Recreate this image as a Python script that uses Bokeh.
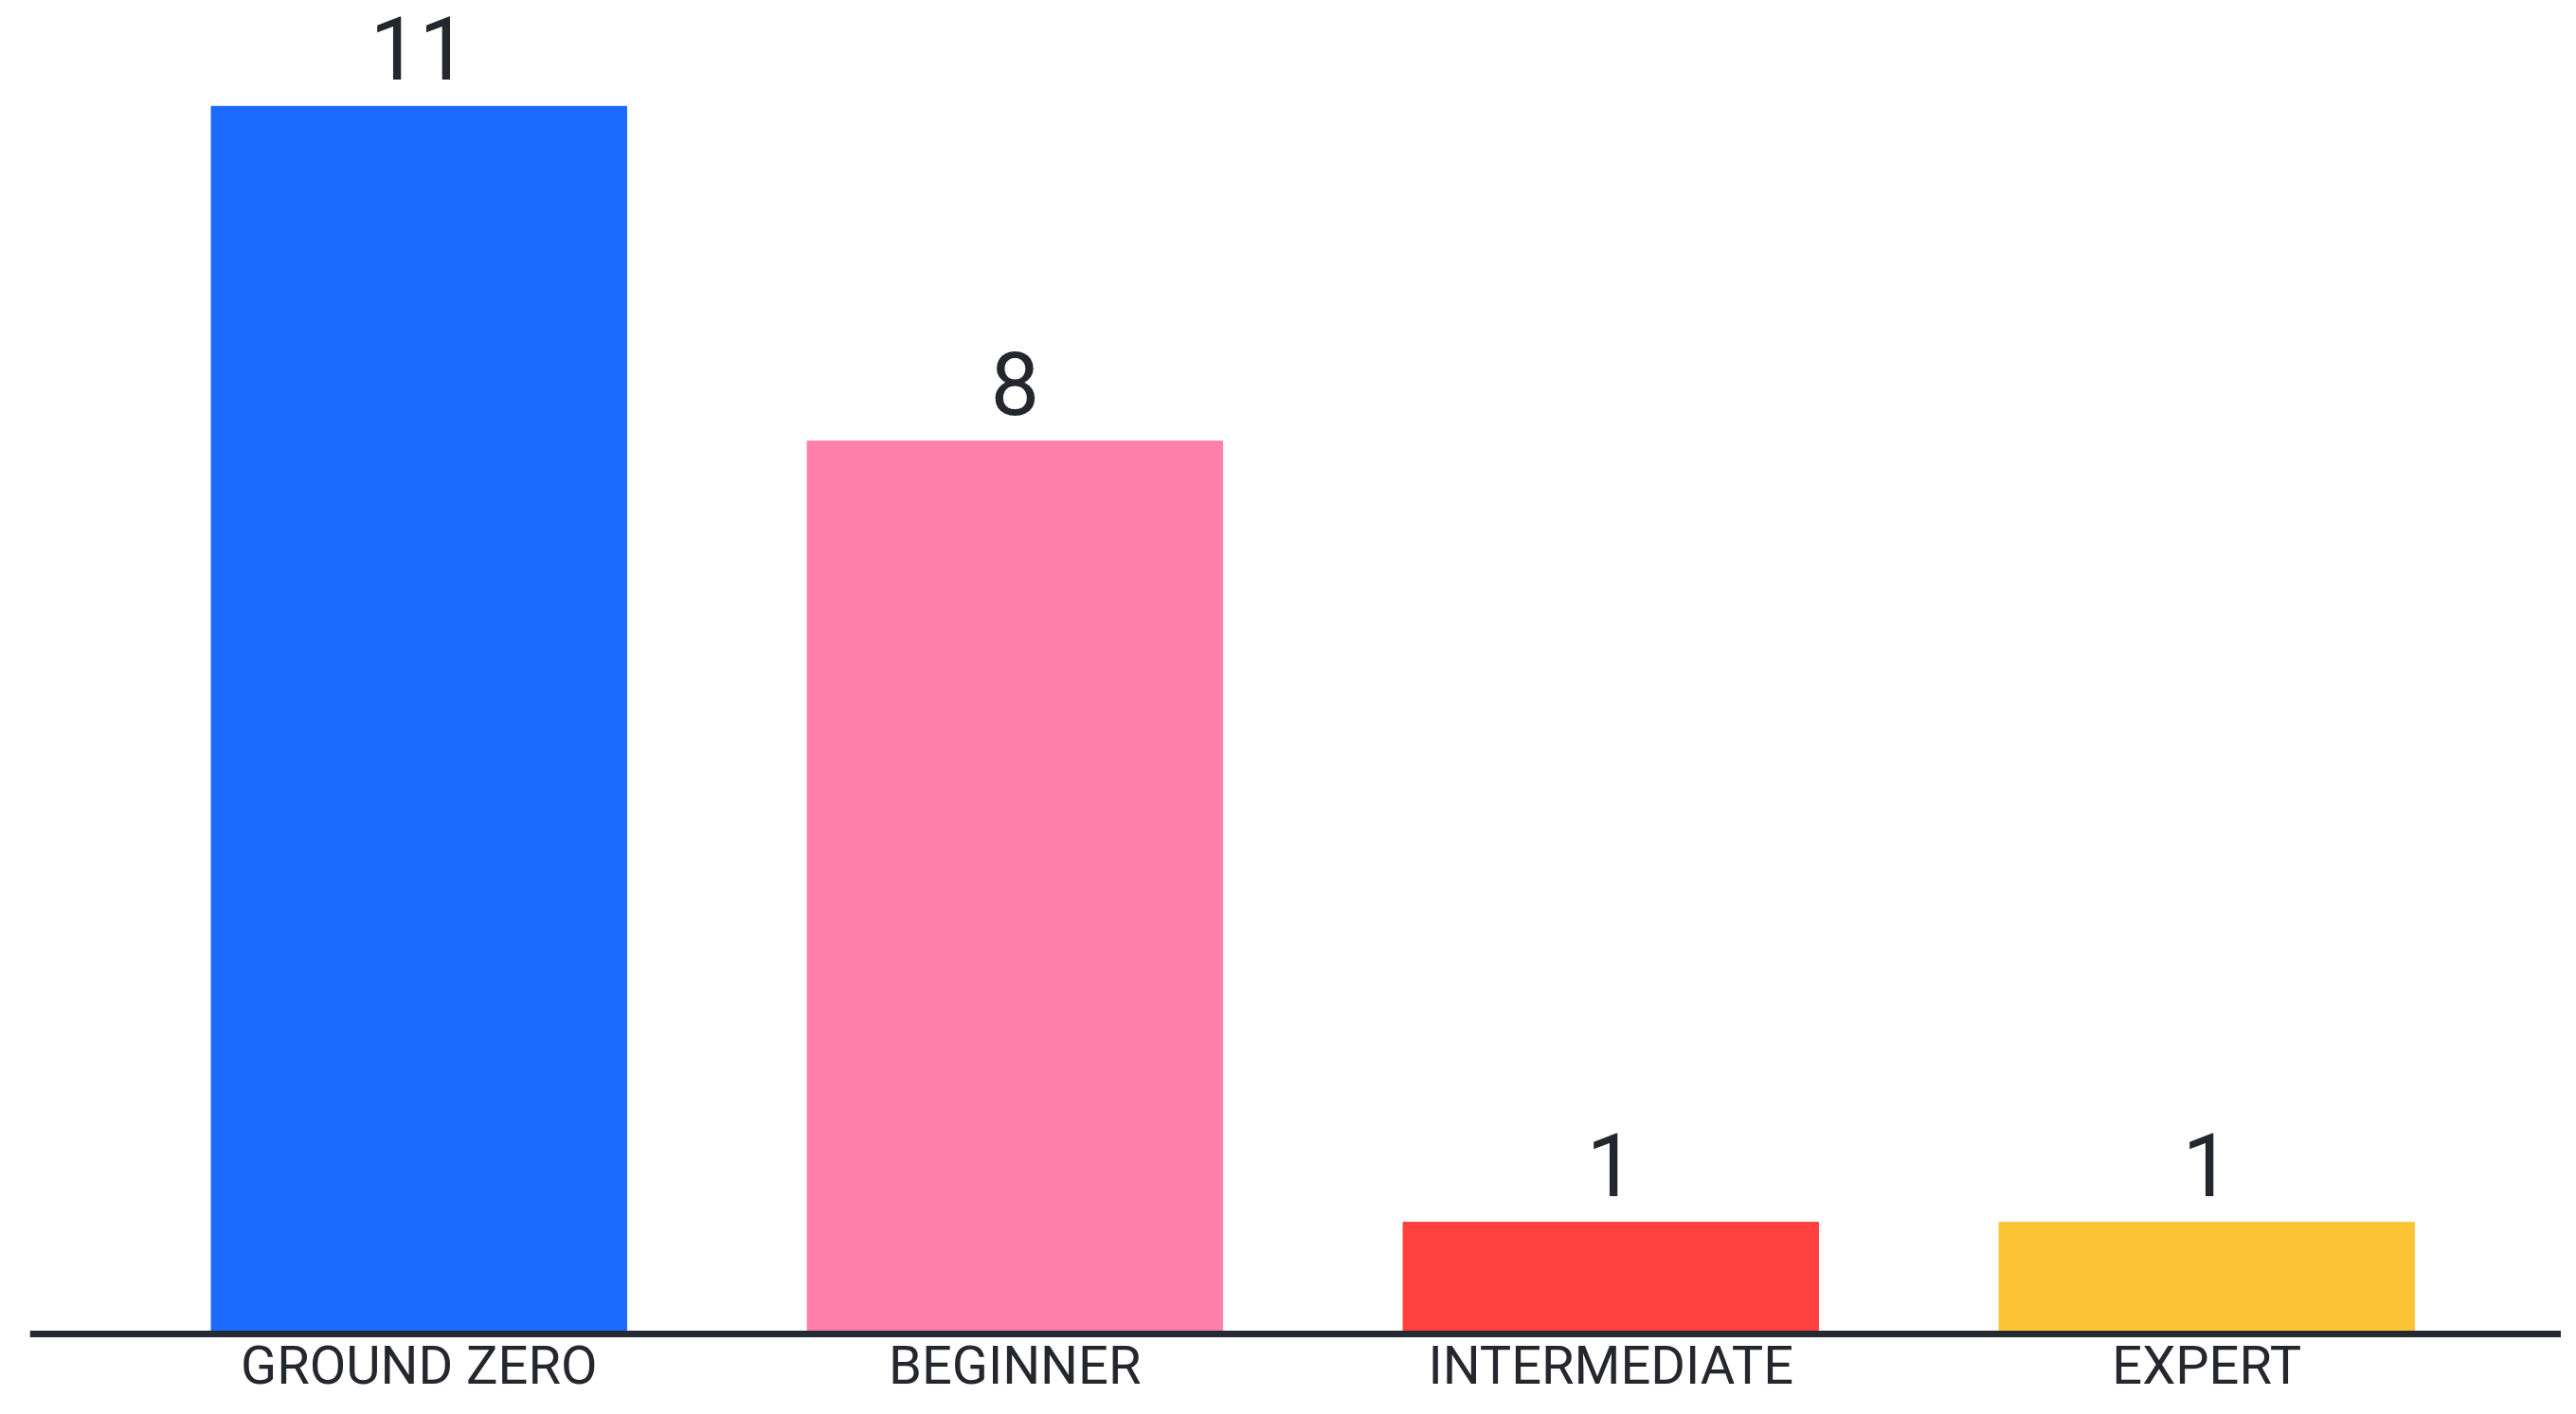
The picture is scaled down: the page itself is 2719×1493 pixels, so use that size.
from bokeh.plotting import figure
from bokeh.models import Range1d, FixedTicker, ColumnDataSource
from bokeh.core.properties import value
from bokeh.embed import file_html
from bokeh.resources import INLINE

categories = ["GROUND ZERO", "BEGINNER", "INTERMEDIATE", "EXPERT"]
counts = [11, 8, 1, 1]
colors = ["#1B6BFF", "#FF80AB", "#FF403D", "#FDC536"]

xs = list(range(len(categories)))
src = ColumnDataSource(dict(x=xs, top=counts, color=colors,
                            label=[str(c) for c in counts]))

p = figure(width=2703, height=1477, output_backend="svg", toolbar_location=None,
           x_range=Range1d(-0.653, 3.595), y_range=Range1d(-0.586, 11.949),
           min_border_left=31, min_border_right=0, min_border_top=0, min_border_bottom=0,
           background_fill_color="white", border_fill_color="white")
p.outline_line_color = None
p.grid.visible = False
p.yaxis.visible = False

p.vbar(x="x", top="top", width=0.697, bottom=0, color="color", source=src)
p.text(x="x", y="top", text="label", source=src, text_align="center",
       text_baseline="bottom", y_offset=-28, text_font_size="92px",
       text_font=value("Roboto"), text_color="#25272E")

ax = p.xaxis[0]
ax.fixed_location = 0
ax.ticker = FixedTicker(ticks=xs)
ax.major_label_overrides = {i: c for i, c in enumerate(categories)}
ax.axis_line_color = "#262A33"
ax.axis_line_width = 7
ax.major_tick_line_color = None
ax.minor_tick_line_color = None
ax.major_tick_out = 0
ax.major_tick_in = 0
ax.major_label_standoff = 1
ax.major_label_text_font_size = "56px"
ax.major_label_text_font = "Roboto"
ax.major_label_text_color = "#25272E"

open("out.html", "w").write(file_html(p, INLINE))
